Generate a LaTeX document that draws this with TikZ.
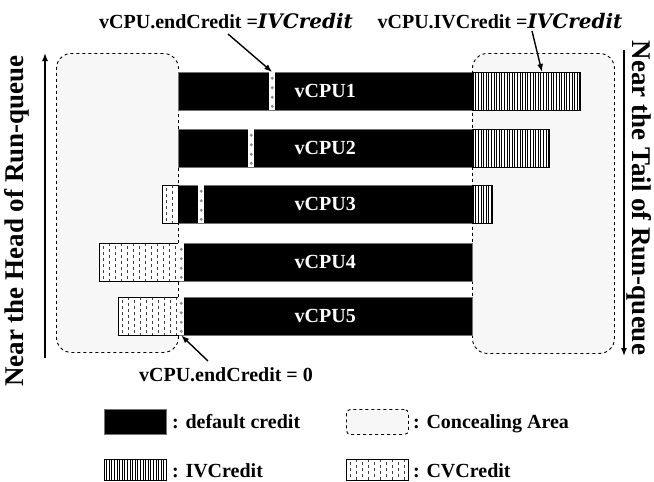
\documentclass[tikz,border=0pt]{standalone}
\usepackage{fontspec}
\setmainfont{Liberation Serif}[BoldFont={Liberation Serif Bold},ItalicFont={Liberation Serif Italic},BoldItalicFont={Liberation Serif Bold Italic}]
\newfontfamily\ivfont{DejaVu Serif Bold Italic}
\usetikzlibrary{patterns.meta,arrows.meta}
\newcommand{\ivit}[1]{{\ivfont #1}}
\tikzset{
  lbl/.style={font=\fontsize{20}{24}\selectfont\bfseries, inner sep=0pt},
  vlbl/.style={font=\fontsize{27}{32}\selectfont\bfseries, inner sep=0pt},
  area/.style={draw, dashed, line width=0.9pt, rounded corners=15pt, fill=black!3, anchor=north west, inner sep=0pt},
  defbar/.style={fill=black, draw=black!55, line width=0.5pt, anchor=north west, inner sep=0pt, minimum height=38pt, text=white, font=\fontsize{20}{24}\selectfont\bfseries},
  ivbar/.style={draw=black, line width=0.6pt, anchor=north west, inner sep=0pt, minimum height=38pt, preaction={fill=white}, pattern={Lines[angle=90,distance=2.6pt,line width=0.9pt]}},
  cvbar/.style={draw=black, line width=0.6pt, fill=white, anchor=north west, inner sep=0pt, minimum height=38pt,
    path picture={\foreach \k in {1,...,20}{\pgfmathsetmacro\ph{mod(\k,2)*3}
      \draw[black!75, line width=0.6pt, dash pattern=on 3pt off 3pt, dash phase=\ph pt]
      ([xshift=\k*6pt-2pt]path picture bounding box.north west) -- ([xshift=\k*6pt-2pt]path picture bounding box.south west);}}},
  mk/.style={fill=white, draw=none, anchor=north west, inner sep=0pt, minimum width=6pt, minimum height=38pt,
    path picture={\foreach \j in {6,15.5,25,34}{\fill[black!45] ([yshift=-\j pt]path picture bounding box.north) circle (1.6pt);}}},
  arr/.style={-{Latex[length=8pt,width=6pt]}, line width=1.4pt},
}
\begin{document}
\begin{tikzpicture}[x=1pt,y=-1pt]
\useasboundingbox (0,0) rectangle (654,482);
% concealing areas
\node[area, minimum width=122pt, minimum height=299pt] (headarea) at (56,53) {};
\node[area, minimum width=142pt, minimum height=300pt] (tailarea) at (472,53) {};
% default credit bars
\node[defbar, minimum width=294pt] (def1) at (178,72) {vCPU1};
\node[defbar, minimum width=294pt] (def2) at (178,129) {vCPU2};
\node[defbar, minimum width=294pt] (def3) at (178,185) {vCPU3};
\node[defbar, minimum width=294pt] (def4) at (178,243) {vCPU4};
\node[defbar, minimum width=294pt] (def5) at (178,297) {vCPU5};
% IVCredit bars
\node[ivbar, minimum width=108pt] (iv1) at (472,72) {};
\node[ivbar, minimum width=77pt] (iv2) at (472,129) {};
\node[ivbar, minimum width=20pt] (iv3) at (472,185) {};
% CVCredit bars
\node[cvbar, minimum width=16pt] (cv3) at (162,185) {};
\node[cvbar, minimum width=79pt] (cv4) at (99,243) {};
\node[cvbar, minimum width=60pt] (cv5) at (118,297) {};
% end credit markers
\node[mk] (mk1) at (269,72) {};
\node[mk] (mk2) at (248,129) {};
\node[mk] (mk3) at (198,185) {};
\node[mk] (mk4) at (178,243) {};
\node[mk] (mk5) at (178,297) {};
% top / bottom labels
\node[lbl, anchor=base] (lab1) at (226,28) {vCPU.endCredit =\ivit{IVCredit}};
\node[lbl, anchor=base] (lab2) at (500,28) {vCPU.IVCredit =\ivit{IVCredit}};
\node[lbl, anchor=base] (lab3) at (226,381) {vCPU.endCredit = 0};
\coordinate (a1s) at (228,34);
\coordinate (a2s) at (532,31);
\coordinate (a2e) at (542,72);
\coordinate (a3s) at (208,361);
\draw[arr] (a1s) -- (mk1.north);
\draw[arr] (a2s) -- (a2e);
\draw[arr] (a3s) -- (mk5.south);
% run-queue direction
\coordinate (hb) at (45,358);
\coordinate (ht) at (45,53);
\coordinate (tt) at (624,50);
\coordinate (tb) at (624,356);
\draw[arr] (hb) -- (ht);
\draw[arr] (tt) -- (tb);
\node[vlbl, rotate=90] (headlbl) at (17,221) {Near the Head of Run-queue};
\node[vlbl, rotate=-90] (taillbl) at (639,198) {Near the Tail of Run-queue};
% legend
\node[defbar, minimum width=62pt, minimum height=25pt] (lgdef) at (104,409) {};
\node[lbl, anchor=base west] (lgdeft) at (172,428) {: default credit};
\node[area, rounded corners=4pt, minimum width=62pt, minimum height=25pt] (lgarea) at (346,409) {};
\node[lbl, anchor=base west] (lgareat) at (413,428) {: Concealing Area};
\node[ivbar, minimum width=62pt, minimum height=21pt] (lgiv) at (104,459) {};
\node[lbl, anchor=base west] (lgivt) at (172,477) {: IVCredit};
\node[cvbar, minimum width=62pt, minimum height=21pt] (lgcv) at (346,459) {};
\node[lbl, anchor=base west] (lgcvt) at (413,477) {: CVCredit};
\end{tikzpicture}
\end{document}
